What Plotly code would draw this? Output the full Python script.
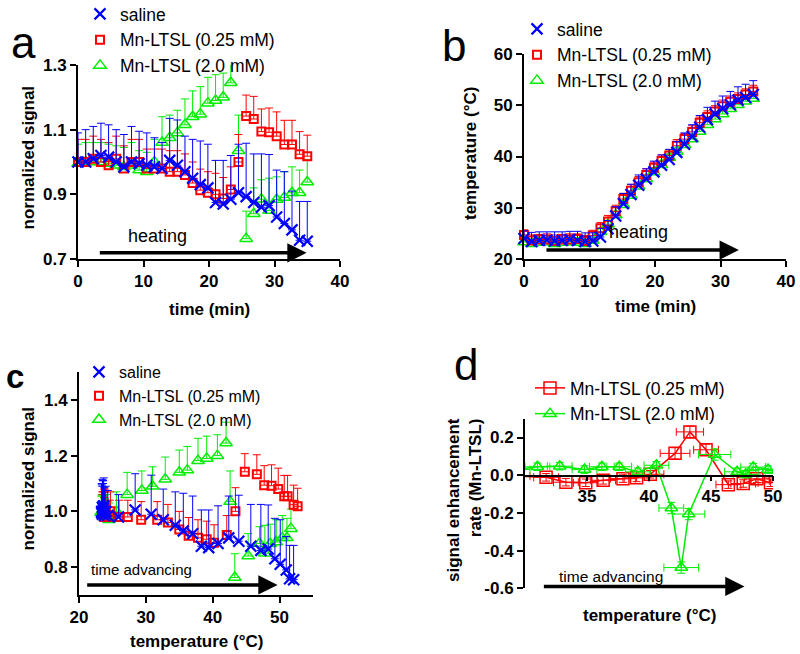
import plotly.graph_objects as go

# ---------------- data ----------------
time_min = [0, 1.17, 2.33, 3.5, 4.67, 5.83, 7.0, 8.17, 9.33, 10.5, 11.67, 12.83, 14.0, 15.17,
            16.33, 17.5, 18.67, 19.83, 21.0, 22.17, 23.33, 24.5, 25.67, 26.83, 28.0, 29.17,
            30.33, 31.5, 32.67, 33.83, 35.0]

saline_signal = [1.00, 1.00, 1.01, 1.02, 1.015, 1.00, 0.985, 1.00, 0.995, 0.99, 0.985, 0.98,
                 1.005, 0.99, 0.97, 0.95, 0.93, 0.92, 0.875, 0.87, 0.885, 0.905, 0.893, 0.875,
                 0.86, 0.865, 0.83, 0.81, 0.79, 0.758, 0.755]
saline_signal_err = [0.09, 0.10, 0.10, 0.10, 0.10, 0.10, 0.10, 0.11, 0.10, 0.10, 0.09, 0.08,
                     0.13, 0.14, 0.11, 0.12, 0.135, 0.135, 0.13, 0.135, 0.135, 0.15, 0.165,
                     0.15, 0.165, 0.158, 0.145, 0.16, 0.12, 0.12, 0.123]

mn025_signal = [1.00, 1.00, 1.01, 1.00, 0.99, 1.01, 0.98, 1.00, 1.00, 0.98, 0.98, 0.98, 0.97,
                0.97, 0.96, 0.935, 0.913, 0.905, 0.90, 0.887, 0.915, 1.00, 1.142, 1.133, 1.094,
                1.092, 1.08, 1.054, 1.054, 1.024, 1.018]
mn025_signal_err = [0.07, 0.07, 0.07, 0.07, 0.07, 0.07, 0.07, 0.07, 0.07, 0.06, 0.06, 0.06,
                    0.065, 0.065, 0.065, 0.065, 0.065, 0.065, 0.065, 0.065, 0.07, 0.085, 0.065,
                    0.07, 0.07, 0.075, 0.075, 0.075, 0.075, 0.07, 0.065]

mn20_signal = [0.995, 1.00, 1.00, 1.00, 0.995, 0.99, 0.985, 0.99, 0.975, 0.97, 1.00, 1.06,
               1.075, 1.09, 1.115, 1.14, 1.148, 1.182, 1.19, 1.20, 1.245, 1.035, 0.763, 0.84,
               0.885, 0.85, 0.884, 0.89, 0.905, 0.905, 0.938]
mn20_signal_err = [0.06, 0.06, 0.06, 0.06, 0.06, 0.06, 0.06, 0.07, 0.06, 0.06, 0.07, 0.08,
                   0.07, 0.07, 0.08, 0.08, 0.085, 0.08, 0.08, 0.075, 0.075, 0.11, 0.085, 0.08,
                   0.06, 0.10, 0.07, 0.08, 0.08, 0.07, 0.07]

saline_temp = [24.0, 23.4, 23.6, 23.7, 23.5, 23.6, 23.8, 23.6, 23.4, 23.5, 24.3, 25.9, 28.4,
               30.8, 32.6, 34.4, 35.6, 37.0, 38.3, 39.4, 40.8, 42.4, 43.9, 45.7, 47.2, 48.3,
               49.3, 50.1, 51.0, 51.5, 52.1]
saline_temp_err = [1.5, 1.8, 1.7, 1.6, 1.8, 1.7, 1.6, 1.8, 1.7, 1.6, 1.7, 1.6, 1.8, 2.0, 2.0,
                   2.0, 2.0, 2.1, 2.0, 2.0, 2.1, 2.2, 2.3, 2.3, 2.4, 2.5, 2.5, 2.6, 2.6, 2.6, 2.7]

mn025_temp = [24.7, 23.6, 23.8, 23.8, 23.5, 23.8, 23.8, 23.9, 23.5, 24.6, 26.0, 27.3, 29.3,
              31.7, 33.3, 35.0, 36.4, 37.8, 39.1, 40.2, 42.1, 43.4, 44.8, 46.6, 47.7, 48.8,
              49.8, 50.7, 51.2, 52.1, 52.7]
mn025_temp_err = [1.0, 1.1, 1.0, 1.1, 1.2, 1.0, 1.1, 1.0, 1.1, 1.0, 1.1, 1.2, 1.2, 1.1, 1.2,
                  1.1, 1.2, 1.1, 1.2, 1.1, 1.2, 1.1, 1.2, 1.1, 1.2, 1.1, 1.2, 1.1, 1.2, 1.1, 1.2]

mn20_temp = [23.3, 23.0, 23.2, 23.3, 23.0, 23.2, 23.3, 23.2, 23.0, 23.6, 25.3, 26.8, 28.6,
             30.6, 32.4, 34.2, 35.6, 37.0, 38.4, 39.8, 41.0, 42.3, 43.4, 44.9, 46.2, 47.3,
             48.3, 49.3, 50.1, 50.8, 51.3]
mn20_temp_err = [0.6, 0.6, 0.6, 0.6, 0.6, 0.6, 0.6, 0.6, 0.6, 0.6, 0.7, 0.7, 0.7, 0.7, 0.7,
                 0.7, 0.7, 0.7, 0.7, 0.7, 0.7, 0.7, 0.7, 0.7, 0.7, 0.7, 0.7, 0.7, 0.7, 0.7, 0.7]

# panel c uses temperature on x
mn20_temp_c = [23.3, 23.4, 23.6, 23.8, 23.5, 23.7, 23.9, 24.1, 24.3, 24.5, 25.6, 27.2, 29.4,
               31.0, 32.9, 35.0, 36.2, 37.8, 39.1, 40.7, 42.0, 42.6, 43.3, 45.3, 47.0, 47.8,
               48.6, 49.5, 50.4, 51.1, 51.7]

# panel d: signal enhancement rate
d_mn025_temp = [29.3, 31.7, 33.3, 34.9, 36.3, 37.9, 39.0, 40.1, 42.1, 43.3, 44.6, 46.4, 47.6,
                48.7, 49.8, 50.7]
d_mn025_rate = [-0.005, -0.011, -0.037, -0.04, -0.027, -0.018, -0.014, 0.005, 0.116, 0.23,
                0.135, -0.05, -0.044, -0.019, -0.04, -0.03]
d_mn025_temp_err = [1.1, 1.0, 1.0, 1.0, 1.0, 1.0, 1.0, 1.1, 1.2, 1.1, 1.0, 1.0, 1.0, 1.0, 1.0, 1.0]
d_mn025_rate_err = [0.02, 0.02, 0.02, 0.02, 0.02, 0.02, 0.02, 0.02, 0.03, 0.03, 0.03, 0.02,
                    0.02, 0.02, 0.02, 0.02]

d_mn20_temp = [29.4, 31.0, 32.8, 34.8, 36.2, 37.6, 39.1, 40.6, 41.8, 42.6, 43.2, 45.3, 47.1,
               47.8, 48.4, 49.6, 50.4]
d_mn20_rate = [0.03, 0.045, 0.048, 0.03, 0.045, 0.045, 0.018, 0.053, -0.174, -0.49, -0.206,
               0.11, 0.018, 0.005, 0.043, 0.03, 0.025]
d_mn20_temp_err = [1.0, 1.0, 1.0, 1.0, 1.0, 1.0, 1.0, 1.0, 1.0, 1.4, 1.3, 1.3, 1.0, 1.0, 1.0,
                   1.0, 1.0]
d_mn20_rate_err = [0.02, 0.02, 0.02, 0.02, 0.02, 0.02, 0.02, 0.02, 0.03, 0.03, 0.03, 0.03,
                   0.02, 0.02, 0.02, 0.02, 0.02]

names = ["saline", "Mn-LTSL (0.25 mM)", "Mn-LTSL (2.0 mM)"]

# ---------------- style ----------------
W, H = 800, 654
FONT = "Liberation Sans, Arial, sans-serif"
BLUE = "#0000FF"
RED = "#FF0000"
GREEN = "#00EE00"


def px(x):
    return x / W


def py(y):
    return 1 - y / H


fig = go.Figure()

styles = {
    0: dict(color=BLUE, symbol="x-thin", size=11, lw=2.2),
    1: dict(color=RED, symbol="square-open", size=8, lw=2),
    2: dict(color=GREEN, symbol="triangle-up-open", size=11, lw=1.5),
}


def scatter_up(x, y, err, k, xa, ya, legend):
    s = styles[k]
    fig.add_trace(go.Scatter(
        x=x, y=y, mode="markers", name=names[k], xaxis=xa, yaxis=ya, legend=legend,
        legendrank=k + 1, cliponaxis=False,
        marker=dict(symbol=s["symbol"], size=s["size"], color=s["color"],
                    line=dict(color=s["color"], width=s["lw"])),
        error_y=dict(type="data", symmetric=False, array=err, arrayminus=[0] * len(err),
                     color=s["color"], thickness=1, width=4),
    ))


# draw order: green, red, blue on top
for k, (sig, err) in [(2, (mn20_signal, mn20_signal_err)),
                      (1, (mn025_signal, mn025_signal_err)),
                      (0, (saline_signal, saline_signal_err))]:
    scatter_up(time_min, sig, err, k, "x", "y", "legend")

for k, (tmp, err) in [(2, (mn20_temp, mn20_temp_err)),
                      (1, (mn025_temp, mn025_temp_err)),
                      (0, (saline_temp, saline_temp_err))]:
    scatter_up(time_min, tmp, err, k, "x2", "y2", "legend2")

for k, (tmp, sig, err) in [(2, (mn20_temp_c, mn20_signal, mn20_signal_err)),
                           (1, (mn025_temp, mn025_signal, mn025_signal_err)),
                           (0, (saline_temp, saline_signal, saline_signal_err))]:
    scatter_up(tmp, sig, err, k, "x3", "y3", "legend3")

# panel d
for k, (xx, yy, ex, ey, msize) in [(1, (d_mn025_temp, d_mn025_rate, d_mn025_temp_err, d_mn025_rate_err, 12)),
                                    (2, (d_mn20_temp, d_mn20_rate, d_mn20_temp_err, d_mn20_rate_err, 11))]:
    c = styles[k]["color"]
    fig.add_trace(go.Scatter(
        x=xx, y=yy, mode="lines+markers", name=names[k], xaxis="x4", yaxis="y4",
        legend="legend4", legendrank=k,
        line=dict(color=c, width=1.5),
        marker=dict(symbol=styles[k]["symbol"], size=msize, color=c, line=dict(color=c, width=1.5)),
        error_x=dict(type="data", array=ex, color=c, thickness=1, width=4),
        error_y=dict(type="data", array=ey, color=c, thickness=1, width=4),
    ))

tickfont = dict(family=FONT, size=17, color="black", weight="bold")
axis_common = dict(showline=True, linecolor="black", linewidth=2, ticks="outside", ticklen=6,
                   tickwidth=2, tickcolor="black", showgrid=False, zeroline=False,
                   tickfont=tickfont, mirror=False)

fig.update_layout(
    width=W, height=H, margin=dict(l=0, r=0, t=0, b=0, autoexpand=False),
    paper_bgcolor="white", plot_bgcolor="white", showlegend=True,
    font=dict(family=FONT, color="black"),
    xaxis=dict(domain=[px(78), px(340)], range=[0, 40], tickvals=[0, 10, 20, 30, 40],
               anchor="y", **axis_common),
    yaxis=dict(domain=[py(259), py(65)], range=[0.7, 1.3], tickvals=[0.7, 0.9, 1.1, 1.3],
               ticktext=["0.7", "0.9", "1.1", "1.3"], anchor="x", **axis_common),
    xaxis2=dict(domain=[px(524), px(786)], range=[0, 40], tickvals=[0, 10, 20, 30, 40],
                anchor="y2", **axis_common),
    yaxis2=dict(domain=[py(259), py(54)], range=[20, 60], tickvals=[20, 30, 40, 50, 60],
                anchor="x2", **axis_common),
    xaxis3=dict(domain=[px(79), px(313)], range=[20, 55], tickvals=[20, 30, 40, 50],
                anchor="y3", **axis_common),
    yaxis3=dict(domain=[py(595), py(372)], range=[0.7, 1.5], tickvals=[0.8, 1.0, 1.2, 1.4],
                ticktext=["0.8", "1.0", "1.2", "1.4"], anchor="x3", **axis_common),
    xaxis4=dict(domain=[px(525), px(773)], range=[30, 50], tickvals=[35, 40, 45, 50],
                anchor="free", position=py(475.7),
                **{**axis_common, "linewidth": 1.5, "ticklen": 5, "tickwidth": 1.5}),
    yaxis4=dict(domain=[py(588.3), py(418.7)], range=[-0.6, 0.3],
                tickvals=[-0.6, -0.4, -0.2, 0.0, 0.2],
                ticktext=["-0.6", "-0.4", "-0.2", "0.0", "0.2"], anchor="x4", **axis_common),
)

leg_common = dict(xanchor="left", yanchor="top", bgcolor="rgba(0,0,0,0)", borderwidth=0,
                  traceorder="normal", itemclick=False)
fig.update_layout(
    legend=dict(x=px(80), y=py(-4), font=dict(family=FONT, size=17.5, color="black"), **leg_common),
    legend2=dict(x=px(517), y=py(11), font=dict(family=FONT, size=17.5, color="black"), **leg_common),
    legend3=dict(x=px(79), y=py(355), font=dict(family=FONT, size=16, color="black"), **leg_common),
    legend4=dict(x=px(530), y=py(370), font=dict(family=FONT, size=17.5, color="black"), **leg_common),
)

ann = []


def text(x, y, s, size=17, bold=True, angle=0, xref="paper", yref="paper", align="center"):
    ann.append(dict(x=x, y=y, xref=xref, yref=yref, text=s, showarrow=False, textangle=angle,
                    align=align, xanchor="center", yanchor="middle",
                    font=dict(family=FONT, size=size, color="black",
                              weight="bold" if bold else "normal")))


# panel letters
text(px(23), py(42), "a", size=44, bold=False)
text(px(454), py(46), "b", size=44, bold=False)
text(px(15), py(376), "c", size=33, bold=True)
text(px(466), py(364), "d", size=44, bold=False)

# axis titles
text(px(27.5), py(158), "normalized signal", angle=-90)
text(px(209), py(309.5), "time (min)")
text(px(470.5), py(153.5), "temperature (°C)", angle=-90)
text(px(655), py(306.5), "time (min)")
text(px(27.5), py(479), "normalized signal", angle=-90)
text(px(196), py(641), "temperature (°C)")
text(px(464), py(500), "signal enhancement<br>rate (Mn-LTSL)", angle=-90, align="right")
text(px(649), py(615), "temperature (°C)")

# arrows with labels
def arrow(x0, x1, y, xa, ya):
    ann.append(dict(x=x1, y=y, ax=x0, ay=y, xref=xa, yref=ya, axref=xa, ayref=ya, text="",
                    showarrow=True, arrowhead=2, arrowsize=1.1, arrowwidth=3.5,
                    arrowcolor="black", standoff=0, startstandoff=0))


arrow(3.1, 34.9, 0.719, "x", "y")
text(12.2, 0.771, "heating", size=18, bold=False, xref="x", yref="y")
arrow(3.2, 32.8, 21.75, "x2", "y2")
text(17.5, 25.3, "heating", size=18, bold=False, xref="x2", yref="y2")
arrow(21.0, 49.7, 0.736, "x3", "y3")
text(29.3, 0.79, "time advancing", size=15, bold=False, xref="x3", yref="y3")
arrow(31.4, 47.7, -0.59, "x4", "y4")
text(36.9, -0.54, "time advancing", size=15.5, bold=False, xref="x4", yref="y4")

fig.update_layout(annotations=ann)

fig.write_html("out.html", config={"displayModeBar": False},
               post_script="document.body.style.margin='0px';document.body.style.overflow='hidden';")
